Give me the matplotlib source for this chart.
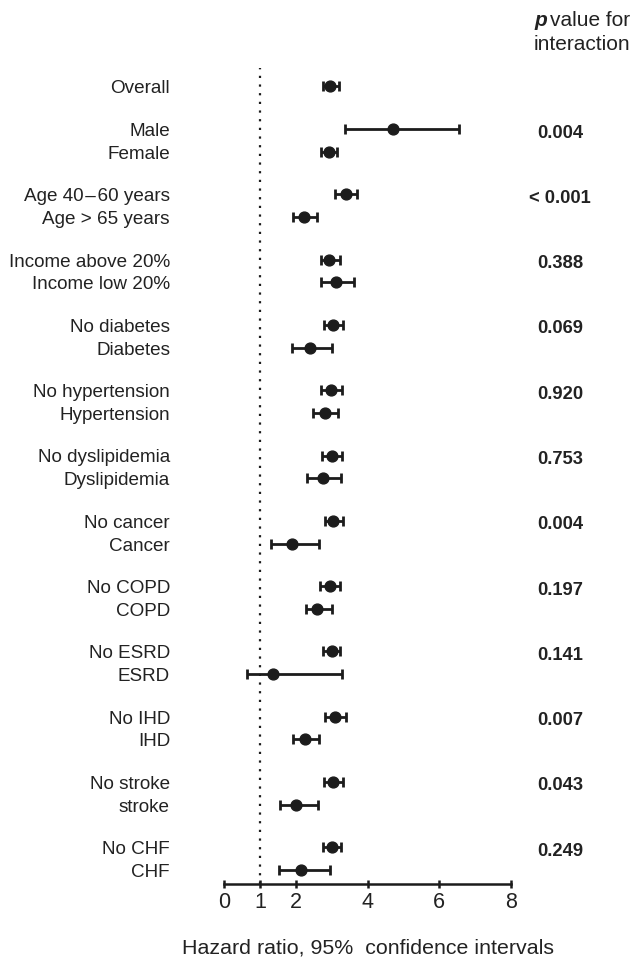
import matplotlib
matplotlib.use("Agg")
import matplotlib.pyplot as plt
import matplotlib.transforms as mtransforms

plt.rcParams['font.family'] = ['Liberation Sans', 'DejaVu Sans']

# subgroup labels, hazard ratios and 95% CI
overall_label = "Overall"
overall_hr, overall_lo, overall_hi = 2.95, 2.77, 3.21

labels = [
    ("Male", "Female"),
    ("Age 40\u200a\u2013\u200a60 years", "Age > 65 years"),
    ("Income above 20%", "Income low 20%"),
    ("No diabetes", "Diabetes"),
    ("No hypertension", "Hypertension"),
    ("No dyslipidemia", "Dyslipidemia"),
    ("No cancer", "Cancer"),
    ("No COPD", "COPD"),
    ("No ESRD", "ESRD"),
    ("No IHD", "IHD"),
    ("No stroke", "stroke"),
    ("No CHF", "CHF"),
]
hr = [
    (4.72, 2.92), (3.39, 2.24), (2.94, 3.12), (3.03, 2.39),
    (2.97, 2.81), (3.00, 2.75), (3.05, 1.89), (2.95, 2.60),
    (3.00, 1.36), (3.09, 2.27), (3.05, 2.02), (3.01, 2.14),
]
ci_lo = [
    (3.37, 2.69), (3.10, 1.93), (2.69, 2.71), (2.80, 1.90),
    (2.70, 2.47), (2.73, 2.30), (2.81, 1.31), (2.68, 2.28),
    (2.77, 0.63), (2.82, 1.92), (2.80, 1.56), (2.77, 1.54),
]
ci_hi = [
    (6.54, 3.16), (3.72, 2.60), (3.23, 3.62), (3.31, 3.00),
    (3.29, 3.19), (3.28, 3.26), (3.31, 2.66), (3.23, 3.00),
    (3.23, 3.28), (3.39, 2.65), (3.31, 2.61), (3.26, 2.95),
]
p_values = ["0.004", "< 0.001", "0.388", "0.069", "0.920", "0.753",
            "0.004", "0.197", "0.141", "0.007", "0.043", "0.249"]
xticks = [0, 1, 2, 4, 6, 8]

W, H = 638, 968
fig = plt.figure(figsize=(W / 100, H / 100), dpi=100)
ax_top, ax_bot = 68, 884
ax = fig.add_axes([224 / W, 1 - ax_bot / H, (511 - 224) / W, (ax_bot - ax_top) / H])

dark = "#1c1c1c"
txt = "#222222"

# vertical layout (pixels from top of axes)
y_overall = 18
group_step = 65.3
row_step = 22.8
first = 61

ys, xs, los, his, names = [y_overall], [overall_hr], [overall_lo], [overall_hi], [overall_label]
p_y = []
for k in range(len(labels)):
    y0 = first + k * group_step
    p_y.append(y0 + 4)
    for j in range(2):
        ys.append(y0 + j * row_step)
        xs.append(hr[k][j])
        los.append(ci_lo[k][j])
        his.append(ci_hi[k][j])
        names.append(labels[k][j])

xerr = [[x - l for x, l in zip(xs, los)], [h - x for x, h in zip(xs, his)]]
ax.errorbar(xs, ys, xerr=xerr, fmt="o", color=dark, ms=7.8, elinewidth=2,
            capsize=3.4, capthick=2, zorder=3)

ax.axvline(1, color=dark, lw=1.6, ls=(0, (1, 2.9)), zorder=1)

ax.set_xlim(0, 8)
ax.set_ylim(ax_bot - ax_top, 0)
ax.set_xticks(xticks)
ax.set_xticklabels([str(t) for t in xticks], fontsize=15.5, color=txt)
ax.tick_params(axis="x", direction="inout", length=6, width=1.8, color=dark, pad=3)
ax.set_yticks([])
for s in ["top", "right", "left"]:
    ax.spines[s].set_visible(False)
ax.spines["bottom"].set_linewidth(1.8)
ax.spines["bottom"].set_color(dark)
ax.set_xlabel("Hazard ratio, 95%  confidence intervals", fontsize=15.4,
              color=txt, labelpad=18)

trans = mtransforms.blended_transform_factory(fig.transFigure, ax.transData)
for y, n in zip(ys, names):
    ax.text(170 / W, y + 2.5, n, transform=trans, ha="right", va="center",
            fontsize=13.6, color=txt)
for y, p in zip(p_y, p_values):
    ax.text(560 / W, y, p, transform=trans, ha="center", va="center",
            fontsize=13.2, fontweight="bold", color=txt)

fig.text(534 / W, 1 - 21 / H, "p", fontsize=15, fontweight="bold",
         fontstyle="italic", color=txt, va="center", ha="left")
fig.text(550 / W, 1 - 21 / H, "value for", fontsize=15, color=txt,
         va="center", ha="left")
fig.text(534 / W, 1 - 44 / H, "interaction", fontsize=15, color=txt,
         va="center", ha="left")

fig.savefig("out.png", dpi=100)
